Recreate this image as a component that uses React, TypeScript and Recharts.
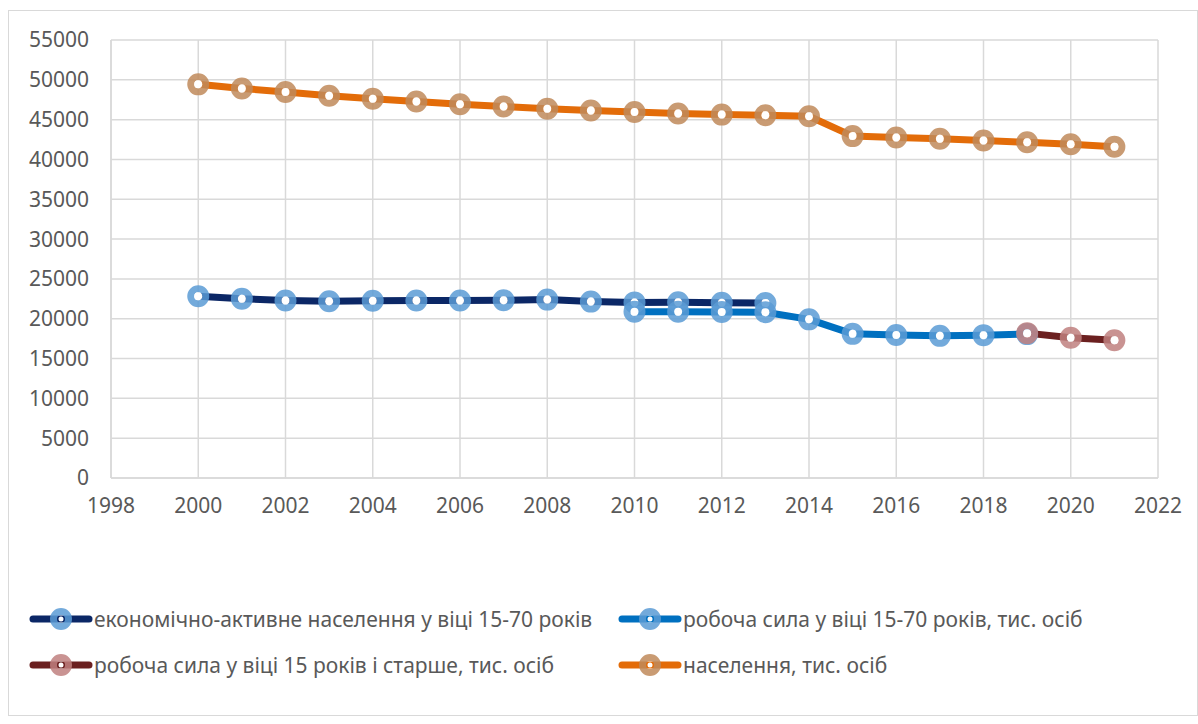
import React from "react";
import { LineChart, Line, XAxis, YAxis, CartesianGrid, Legend } from "recharts";

const years = [2000, 2001, 2002, 2003, 2004, 2005, 2006, 2007, 2008, 2009, 2010, 2011, 2012, 2013, 2014, 2015, 2016, 2017, 2018, 2019, 2020, 2021];
const econActive = [22830, 22500, 22300, 22200, 22250, 22300, 22280, 22320, 22400, 22150, 22050, 22060, 22010, 21980, null, null, null, null, null, null, null, null];
const labour1570 = [null, null, null, null, null, null, null, null, null, null, 20890, 20890, 20850, 20820, 19920, 18100, 17950, 17850, 17940, 18070, null, null];
const labour15plus = [null, null, null, null, null, null, null, null, null, null, null, null, null, null, null, null, null, null, null, 18190, 17620, 17300];
const population = [49430, 48920, 48460, 48000, 47620, 47280, 46930, 46650, 46370, 46140, 45960, 45780, 45630, 45550, 45430, 42930, 42760, 42590, 42390, 42150, 41900, 41590];
const xTicks = [1998, 2000, 2002, 2004, 2006, 2008, 2010, 2012, 2014, 2016, 2018, 2020, 2022];
const yTicks = [0, 5000, 10000, 15000, 20000, 25000, 30000, 35000, 40000, 45000, 50000, 55000];

const seriesDefs = [
  { key: "econ", name: "економічно-активне населення у віці 15-70 років", line: "#0b2766", marker: "#5b9bd5" },
  { key: "l1570", name: "робоча сила у віці 15-70 років, тис. осіб", line: "#0070c0", marker: "#5b9bd5" },
  { key: "l15", name: "робоча сила у віці 15 років і старше, тис. осіб", line: "#6b2020", marker: "#c0807f" },
  { key: "pop", name: "населення, тис. осіб", line: "#e36c09", marker: "#c08a5a" },
];

const data = years.map((y, i) => ({
  year: y,
  econ: econActive[i],
  l1570: labour1570[i],
  l15: labour15plus[i],
  pop: population[i],
}));

const FONT = "'Noto Sans', sans-serif";
const TEXT = "#595959";

const makeDot = (color: string) => (props: any) => {
  const { cx, cy, value, index } = props;
  if (value == null || cx == null || cy == null) return <g key={index} />;
  return (
    <g key={index}>
      <circle cx={cx} cy={cy} r={7.5} fill="none" stroke={color} strokeWidth={7} strokeOpacity={0.85} />
      <circle cx={cx} cy={cy} r={4} fill="#ffffff" />
    </g>
  );
};

const LegendIcon = ({ line, marker }: { line: string; marker: string }) => (
  <svg width={64} height={24} style={{ display: "block" }}>
    <line x1={4} y1={12} x2={60} y2={12} stroke={line} strokeWidth={7} strokeLinecap="round" />
    <circle cx={32} cy={12} r={7.5} fill="none" stroke={marker} strokeWidth={7} strokeOpacity={0.85} />
    <circle cx={32} cy={12} r={2.5} fill="#ffffff" />
  </svg>
);

const renderLegend = () => {
  const item = (d: typeof seriesDefs[number]) => (
    <div style={{ display: "flex", alignItems: "center" }}>
      <LegendIcon line={d.line} marker={d.marker} />
      <span style={{ fontFamily: FONT, fontSize: 21, color: TEXT, marginLeft: 1, whiteSpace: "nowrap" }}>{d.name}</span>
    </div>
  );
  return (
    <div style={{ position: "relative", height: 100 }}>
      <div style={{ position: "absolute", left: 20, top: 0 }}>{item(seriesDefs[0])}</div>
      <div style={{ position: "absolute", left: 609, top: 0 }}>{item(seriesDefs[1])}</div>
      <div style={{ position: "absolute", left: 20, top: 46 }}>{item(seriesDefs[2])}</div>
      <div style={{ position: "absolute", left: 609, top: 46 }}>{item(seriesDefs[3])}</div>
    </div>
  );
};

export default function App() {
  return (
    <div style={{ position: "absolute", left: 8, top: 10, width: 1190, height: 706, border: "1.5px solid #d9d9d9", boxSizing: "border-box", background: "#fff" }}>
      <LineChart
        width={1187}
        height={703}
        data={data}
        margin={{ top: 29, right: 38, left: 0, bottom: 94 }}
      >
        <CartesianGrid stroke="#d9d9d9" strokeWidth={1.5} vertical={true} horizontal={true} />
        <XAxis
          dataKey="year"
          type="number"
          domain={[1998, 2022]}
          ticks={xTicks}
          interval={0}
          axisLine={{ stroke: "#d9d9d9", strokeWidth: 1.5 }}
          tickLine={false}
          tick={{ fill: TEXT, fontSize: 21, fontFamily: FONT }}
          tickMargin={14}
          height={42}
        />
        <YAxis
          type="number"
          domain={[0, 55000]}
          ticks={yTicks}
          interval={0}
          axisLine={{ stroke: "#d9d9d9", strokeWidth: 1.5 }}
          tickLine={false}
          tick={{ fill: TEXT, fontSize: 21, fontFamily: FONT }}
          tickMargin={16}
          width={102}
        />
        <Legend
          content={renderLegend}
          wrapperStyle={{ position: "absolute", top: 594, left: 0, width: 1187, height: 100 }}
        />
        <Line dataKey="econ" name={seriesDefs[0].name} stroke={seriesDefs[0].line} strokeWidth={7} dot={makeDot(seriesDefs[0].marker)} activeDot={false} isAnimationActive={false} connectNulls={false} strokeLinejoin="round" />
        <Line dataKey="l1570" name={seriesDefs[1].name} stroke={seriesDefs[1].line} strokeWidth={7} dot={makeDot(seriesDefs[1].marker)} activeDot={false} isAnimationActive={false} connectNulls={false} strokeLinejoin="round" />
        <Line dataKey="l15" name={seriesDefs[2].name} stroke={seriesDefs[2].line} strokeWidth={7} dot={makeDot(seriesDefs[2].marker)} activeDot={false} isAnimationActive={false} connectNulls={false} strokeLinejoin="round" />
        <Line dataKey="pop" name={seriesDefs[3].name} stroke={seriesDefs[3].line} strokeWidth={7} dot={makeDot(seriesDefs[3].marker)} activeDot={false} isAnimationActive={false} connectNulls={false} strokeLinejoin="round" />
      </LineChart>
    </div>
  );
}
